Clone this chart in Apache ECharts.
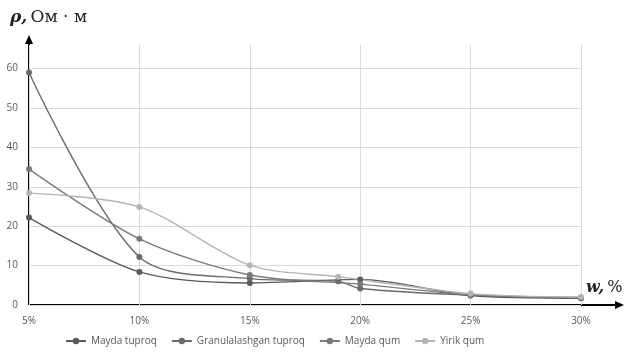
<!DOCTYPE html>
<html>
<head>
<meta charset="utf-8">
<script src="https://cdn.jsdelivr.net/npm/echarts@6/dist/echarts.min.js"></script>
<style>
html, body { margin: 0; padding: 0; background: #fff; }
#chart { width: 627px; height: 352px; }
</style>
</head>
<body>
<div id="chart"></div>
<script>
// namlik (w, %) va solishtirma qarshilik (rho, Om*m)
var seriesNames = ['Mayda tuproq', 'Granulalashgan tuproq', 'Mayda qum', 'Yirik qum'];
var maydaTuproq = [[5, 22.2], [10, 8.4], [15, 5.6], [20, 6.5], [25, 2.4], [30, 1.7]];
var granulTuproq = [[5, 59], [10, 12.2], [15, 6.7], [19, 6.0], [20, 4.2], [25, 2.5], [30, 1.8]];
var maydaQum = [[5, 34.5], [10, 16.8], [15, 7.6], [20, 5.3], [25, 2.6], [30, 1.9]];
var yirikQum = [[5, 28.4], [10, 24.9], [15, 10.1], [19, 7.2], [25, 2.9], [30, 2.0]];
var xTicks = [5, 10, 15, 20, 25, 30];
var yTicks = [0, 10, 20, 30, 40, 50, 60];

var lineColors = ['#5a5a5a', '#6a6a6a', '#7a7a7a', '#b4b4b4'];
var allData = [maydaTuproq, granulTuproq, maydaQum, yirikQum];

function makeSeries(i) {
    return {
        name: seriesNames[i],
        type: 'line',
        data: allData[i],
        smooth: 0.3,
        symbol: 'circle',
        symbolSize: 6,
        lineStyle: { width: 1.4, color: lineColors[i] },
        itemStyle: { color: lineColors[i] }
    };
}

var option = {
    animation: false,
    grid: { left: 29, right: 46, top: 45, bottom: 47 },
    xAxis: {
        type: 'value',
        min: xTicks[0],
        max: xTicks[xTicks.length - 1],
        interval: 5,
        axisLine: { show: false },
        axisTick: { show: false },
        splitLine: { lineStyle: { color: '#d9d9d9', width: 1 } },
        axisLabel: {
            margin: 11,
            color: '#595959',
            fontSize: 10,
            fontFamily: 'Open Sans',
            formatter: function (v) { return v + '%'; }
        }
    },
    yAxis: {
        type: 'value',
        min: yTicks[0],
        max: 66,
        interval: 10,
        axisLine: { show: false },
        axisTick: { show: false },
        splitLine: { showMaxLine: false, lineStyle: { color: '#d9d9d9', width: 1 } },
        axisLabel: {
            margin: 11,
            color: '#595959',
            fontSize: 10,
            fontFamily: 'Open Sans',
            showMaxLabel: false
        }
    },
    legend: {
        left: 60,
        top: 331,
        itemWidth: 20,
        itemHeight: 8,
        itemGap: 14,
        textStyle: { color: '#595959', fontSize: 10, fontFamily: 'Open Sans' },
        data: seriesNames
    },
    graphic: [
        // o'qlar (strelkalar)
        { type: 'line', shape: { x1: 29, y1: 305, x2: 618, y2: 305 }, style: { stroke: '#000', lineWidth: 2 } },
        { type: 'polygon', shape: { points: [[624, 305], [615, 301], [615, 309]] }, style: { fill: '#000' } },
        { type: 'line', shape: { x1: 29, y1: 305, x2: 29, y2: 42 }, style: { stroke: '#000', lineWidth: 2 } },
        { type: 'polygon', shape: { points: [[29, 35], [25, 44], [33, 44]] }, style: { fill: '#000' } },
        {
            type: 'text', left: 10, top: 9,
            style: {
                rich: {
                    r: { fontFamily: 'DejaVu Serif', fontStyle: 'italic', fontWeight: 'bold', fontSize: 17, fill: '#222' },
                    u: { fontFamily: 'DejaVu Serif', fontSize: 17, fill: '#222' }
                },
                text: '{r|ρ,} {u|Ом · м}'
            }
        },
        {
            type: 'text', left: 586, top: 280,
            style: {
                rich: {
                    r: { fontFamily: 'DejaVu Serif', fontStyle: 'italic', fontWeight: 'bold', fontSize: 16, fill: '#222' },
                    u: { fontFamily: 'DejaVu Serif', fontSize: 16, fill: '#222' }
                },
                text: '{r|w,} {u|%}'
            }
        }
    ],
    series: [makeSeries(0), makeSeries(1), makeSeries(2), makeSeries(3)]
};

var echart = echarts.init(document.getElementById('chart'));
echart.setOption(option, true);
</script>
</body>
</html>
